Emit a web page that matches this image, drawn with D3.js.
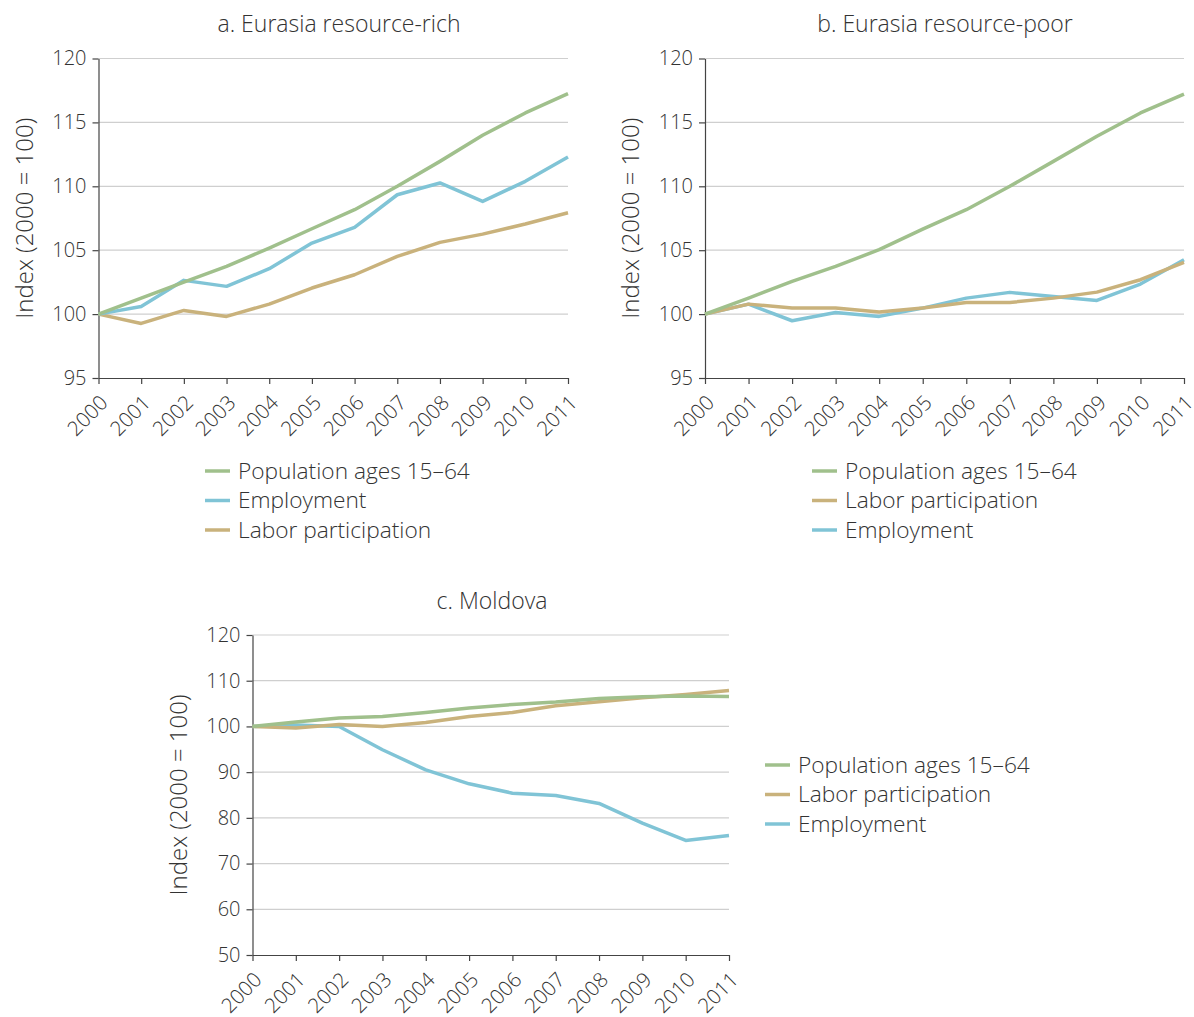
<!DOCTYPE html>
<html><head><meta charset="utf-8">
<script src="https://cdn.jsdelivr.net/npm/d3@7"></script>
<style>
body{margin:0;background:#fff;}
text{font-family:"Open Sans",sans-serif;font-weight:300;fill:#333;}
</style></head><body>
<svg id="chart" width="1194" height="1017"></svg>
<script>
const years = [2000,2001,2002,2003,2004,2005,2006,2007,2008,2009,2010,2011];

const richPopulation = [100,101.25,102.5,103.73,105.17,106.68,108.17,110.0,111.95,113.99,115.74,117.25];
const richEmployment = [100,100.6,102.64,102.17,103.55,105.56,106.79,109.34,110.26,108.82,110.39,112.29];
const richLabor      = [100,99.27,100.29,99.82,100.78,102.04,103.08,104.51,105.61,106.26,107.05,107.93];

const poorPopulation = [100,101.25,102.56,103.73,105.04,106.65,108.17,110.0,111.95,113.91,115.74,117.22];
const poorLabor      = [100,100.78,100.47,100.47,100.16,100.47,100.91,100.91,101.25,101.72,102.69,104.04];
const poorEmployment = [100,100.78,99.48,100.13,99.82,100.47,101.25,101.70,101.38,101.07,102.35,104.25];

const molPopulation = [100,100.95,101.82,102.19,103.06,104.01,104.81,105.32,106.13,106.49,106.64,106.56];
const molLabor      = [100,99.64,100.44,100.0,100.88,102.19,103.06,104.52,105.4,106.27,107.0,107.88];
const molEmployment = [100,100.3,100.0,94.9,90.5,87.45,85.4,84.9,83.15,78.85,75.05,76.15];

const yTicksAB = [95,100,105,110,115,120];
const yTicksC = [50,60,70,80,90,100,110,120];

const colors = {pop:"#a0c08c", emp:"#80c4d6", lab:"#c9b27c"};

const svg = d3.select("#chart");

function panel(cfg){
  const g = svg.append("g");
  const x = d3.scaleLinear().domain([2000,2011]).range([cfg.x0,cfg.x1]);
  const y = d3.scaleLinear().domain([cfg.yTicks[0], cfg.yTicks[cfg.yTicks.length-1]]).range([cfg.y1,cfg.y0]);
  g.append("g").selectAll("line").data(cfg.yTicks.slice(1)).join("line")
    .attr("x1",cfg.x0).attr("x2",cfg.x1).attr("y1",d=>y(d)).attr("y2",d=>y(d))
    .attr("stroke","#cfcfcf").attr("stroke-width",1.2);
  const ya = g.append("g").attr("transform",`translate(${cfg.x0},0)`)
    .call(d3.axisLeft(y).tickValues(cfg.yTicks).tickSize(6).tickSizeOuter(0).tickPadding(6));
  ya.select(".domain").attr("stroke","#444").attr("stroke-width",1.2);
  ya.selectAll(".tick line").attr("stroke","#444").attr("stroke-width",1.2);
  ya.selectAll("text").style("font-size","20px").style("font-weight","300").attr("fill","#333");
  const xa = g.append("g").attr("transform",`translate(0,${cfg.y1})`)
    .call(d3.axisBottom(x).tickValues(years).tickFormat(d3.format("d")).tickSize(6).tickSizeOuter(0));
  xa.select(".domain").attr("stroke","#444").attr("stroke-width",1.2);
  xa.selectAll(".tick line").attr("stroke","#444").attr("stroke-width",1.2);
  xa.selectAll("text").style("font-size","20.5px").style("font-weight","300").attr("fill","#333")
    .attr("text-anchor","end").attr("dy","0.35em").attr("dx","0")
    .attr("transform","translate(5,21) rotate(-45)").attr("y",0);
  const line = d3.line().x((d,i)=>x(years[i])).y(d=>y(d));
  cfg.series.slice().reverse().forEach(s=>{
    g.append("path").datum(s.values).attr("d",line).attr("fill","none")
      .attr("stroke",colors[s.key]).attr("stroke-width",3.5).attr("stroke-linejoin","round");
  });
  g.append("text").attr("x",cfg.tx).attr("y",cfg.ty).attr("text-anchor","middle")
    .style("font-size","23px").text(cfg.title);
  g.append("text").attr("transform",`translate(${cfg.lx},${(cfg.y0+cfg.y1)/2}) rotate(-90)`)
    .attr("text-anchor","middle").style("font-size","24px").text("Index (2000 = 100)");
  cfg.series.forEach((s,i)=>{
    const yy = cfg.legY + i*29.5;
    g.append("line").attr("x1",cfg.legX).attr("x2",cfg.legX+25).attr("y1",yy).attr("y2",yy)
      .attr("stroke",colors[s.key]).attr("stroke-width",3.5);
    g.append("text").attr("x",cfg.legX+33).attr("y",yy).attr("dy","0.35em")
      .style("font-size","22.7px").text(s.name);
  });
}

panel({x0:98.5,x1:568,y0:58.5,y1:378,yTicks:yTicksAB,title:"a. Eurasia resource-rich",tx:339,ty:32,lx:33,
  legX:205,legY:471,
  series:[{key:"pop",name:"Population ages 15–64",values:richPopulation},
          {key:"emp",name:"Employment",values:richEmployment},
          {key:"lab",name:"Labor participation",values:richLabor}]});

panel({x0:705,x1:1184,y0:58.5,y1:378,yTicks:yTicksAB,title:"b. Eurasia resource-poor",tx:945,ty:32,lx:639,
  legX:812,legY:471,
  series:[{key:"pop",name:"Population ages 15–64",values:poorPopulation},
          {key:"lab",name:"Labor participation",values:poorLabor},
          {key:"emp",name:"Employment",values:poorEmployment}]});

panel({x0:252.5,x1:729,y0:635,y1:955,yTicks:yTicksC,title:"c. Moldova",tx:492,ty:609,lx:187,
  legX:765,legY:765,
  series:[{key:"pop",name:"Population ages 15–64",values:molPopulation},
          {key:"lab",name:"Labor participation",values:molLabor},
          {key:"emp",name:"Employment",values:molEmployment}]});
</script>
</body></html>
